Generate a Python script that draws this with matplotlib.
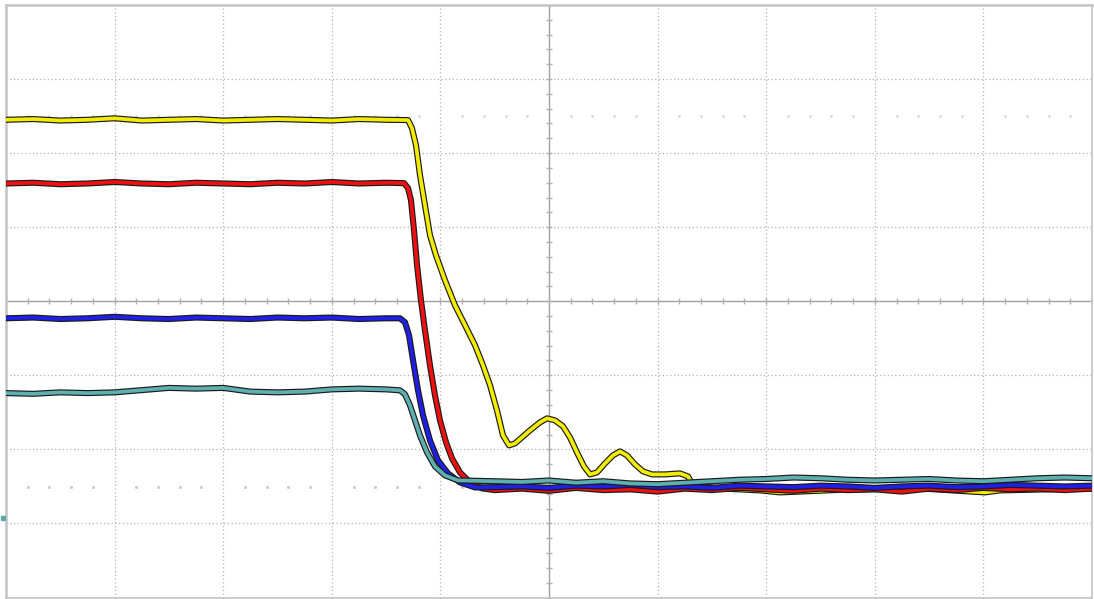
import matplotlib
matplotlib.use("Agg")
import matplotlib.pyplot as plt
import matplotlib.patheffects as pe
import numpy as np

# screen is 10 x 8 divisions, centre at (0, 0)
flat_x = [-5.0, -4.75, -4.5, -4.25, -4.0, -3.75, -3.5, -3.25, -3.0, -2.75,
          -2.5, -2.25, -2.0, -1.75, -1.5]
tail_x = [-0.5, -0.25, 0.0, 0.25, 0.5, 0.75, 1.0, 1.25, 1.5, 1.75, 2.0, 2.25,
          2.5, 2.75, 3.0, 3.25, 3.5, 3.75, 4.0, 4.25, 4.5, 4.75, 5.0]

# channel 1 (yellow)
yellow_flat = [2.45, 2.46, 2.44, 2.45, 2.47, 2.44, 2.45, 2.46, 2.44, 2.45,
               2.46, 2.45, 2.44, 2.46, 2.45]
yellow_fall_x = [-1.298, -1.262, -1.225, -1.188, -1.142, -1.096, -1.041, -0.958,
                 -0.866, -0.773, -0.681, -0.608, -0.543, -0.479, -0.424, -0.368,
                 -0.313, -0.249, -0.175, -0.083, -0.018, 0.055, 0.129, 0.193,
                 0.258, 0.322, 0.378, 0.442, 0.516, 0.589, 0.654, 0.718, 0.792,
                 0.866, 0.948, 1.068, 1.206, 1.280, 1.326, 1.575, 1.943, 2.127,
                 2.772, 3.416, 4.015, 4.153, 5.0]
yellow_fall_y = [2.446, 2.338, 2.108, 1.703, 1.297, 0.892, 0.622, 0.284,
                 -0.054, -0.324, -0.595, -0.865, -1.135, -1.473, -1.811, -1.946,
                 -1.919, -1.838, -1.743, -1.635, -1.581, -1.608, -1.689, -1.838,
                 -2.041, -2.230, -2.338, -2.311, -2.189, -2.081, -2.027, -2.081,
                 -2.203, -2.297, -2.338, -2.338, -2.324, -2.365, -2.486, -2.527,
                 -2.554, -2.581, -2.541, -2.527, -2.581, -2.554, -2.527]

# channel 2 (red)
red_flat = [1.59, 1.60, 1.58, 1.59, 1.61, 1.59, 1.58, 1.60, 1.59, 1.58,
            1.60, 1.59, 1.61, 1.59, 1.60]
red_fall_x = [-1.335, -1.298, -1.271, -1.243, -1.215, -1.179, -1.142, -1.096,
              -1.050, -1.004, -0.948, -0.893, -0.820, -0.727, -0.617]
red_fall_y = [1.595, 1.527, 1.365, 0.959, 0.486, 0.014, -0.392, -0.865,
              -1.270, -1.608, -1.905, -2.122, -2.311, -2.446, -2.527]
red_tail = [-2.55, -2.53, -2.56, -2.52, -2.55, -2.54, -2.57, -2.53, -2.55, -2.52,
            -2.54, -2.56, -2.53, -2.55, -2.54, -2.57, -2.53, -2.55, -2.52, -2.54,
            -2.53, -2.55, -2.53]

# channel 3 (blue)
blue_flat = [-0.23, -0.22, -0.24, -0.23, -0.21, -0.23, -0.24, -0.22, -0.23, -0.24,
             -0.22, -0.23, -0.22, -0.24, -0.23]
blue_fall_x = [-1.372, -1.326, -1.289, -1.252, -1.206, -1.160, -1.096, -1.022,
               -0.930, -0.820, -0.681]
blue_fall_y = [-0.230, -0.284, -0.459, -0.797, -1.203, -1.541, -1.878, -2.149,
               -2.324, -2.446, -2.514]
blue_tail = [-2.51, -2.50, -2.52, -2.49, -2.50, -2.48, -2.51, -2.50, -2.52, -2.49,
             -2.50, -2.51, -2.49, -2.50, -2.52, -2.50, -2.49, -2.51, -2.50, -2.48,
             -2.49, -2.50, -2.49]

# channel 4 (teal)
teal_flat = [-1.24, -1.25, -1.23, -1.24, -1.23, -1.20, -1.17, -1.18, -1.17, -1.22,
             -1.23, -1.22, -1.19, -1.18, -1.19]
teal_fall_x = [-1.372, -1.326, -1.280, -1.234, -1.188, -1.123, -1.050, -0.958, -0.838]
teal_fall_y = [-1.203, -1.257, -1.405, -1.608, -1.811, -2.041, -2.230, -2.351, -2.419]
teal_tail = [-2.43, -2.44, -2.42, -2.45, -2.43, -2.46, -2.47, -2.45, -2.43, -2.41,
             -2.40, -2.38, -2.39, -2.41, -2.42, -2.41, -2.40, -2.42, -2.43, -2.41,
             -2.39, -2.38, -2.39]


fig = plt.figure(figsize=(10.94, 5.99), dpi=100)
ax = fig.add_axes([6 / 1094, 1.5 / 599, 1086 / 1094, 592.5 / 599])
ax.set_xlim(-5, 5)
ax.set_ylim(-4, 4)
ax.set_xticks([])
ax.set_yticks([])

# dotted graticule
for gx in range(-4, 5):
    if gx != 0:
        ax.axvline(gx, color='#b4b4b4', lw=0.9, ls=(0, (1, 2)), zorder=1)
for gy in range(-3, 4):
    if gy != 0:
        ax.axhline(gy, color='#b4b4b4', lw=0.9, ls=(0, (1, 2)), zorder=1)

# centre cross with minor ticks
ax.axhline(0, color='#a0a0a0', lw=1.0, zorder=1)
ax.axvline(0, color='#a0a0a0', lw=1.0, zorder=1)
minor_x = np.arange(-5, 5.01, 0.2)
minor_y = np.arange(-4, 4.01, 0.2)
ax.plot(minor_x, np.zeros_like(minor_x), ls='none', marker='|', ms=3.8, mew=1.0,
        color='#b0b0b0', zorder=1)
ax.plot(np.zeros_like(minor_y), minor_y, ls='none', marker='_', ms=3.8, mew=1.0,
        color='#b0b0b0', zorder=1)

# faint marker dots
dots_x = np.array([v for v in np.arange(-4.8, 4.9, 0.2) if abs(v - round(v)) > 0.05])
ax.plot(dots_x, np.full_like(dots_x, 2.5), ls='none', marker='s', ms=0.9,
        color='#d8d8d8', zorder=1)
ax.plot(dots_x, np.full_like(dots_x, -2.51), ls='none', marker='s', ms=1.0,
        color='#c8c8c8', zorder=1)

for side in ('left', 'top'):
    ax.spines[side].set_color('#c4c4c4')
    ax.spines[side].set_linewidth(1.8)
for side in ('right', 'bottom'):
    ax.spines[side].set_color('#c4c4c4')
    ax.spines[side].set_linewidth(1.2)

outline = [pe.Stroke(linewidth=4.4, foreground='#1a1a1a'), pe.Normal()]


def trace(x, y, color, z):
    ax.plot(x, y, color=color, lw=2.7, solid_joinstyle='round',
            path_effects=outline, zorder=z)


trace(flat_x + yellow_fall_x, yellow_flat + yellow_fall_y, '#f2ec00', 3)
trace(flat_x + red_fall_x + tail_x, red_flat + red_fall_y + red_tail, '#ee1010', 4)
trace(flat_x + blue_fall_x + tail_x, blue_flat + blue_fall_y + blue_tail, '#1f1fe6', 5)
trace(flat_x + teal_fall_x + tail_x, teal_flat + teal_fall_y + teal_tail, '#5eb0b0', 6)

# ground reference marker at left edge
ax.plot([-5.03], [-2.92], marker='s', ms=3, color='#5aaaaa', clip_on=False, zorder=7)

fig.savefig('out.png', dpi=100)
